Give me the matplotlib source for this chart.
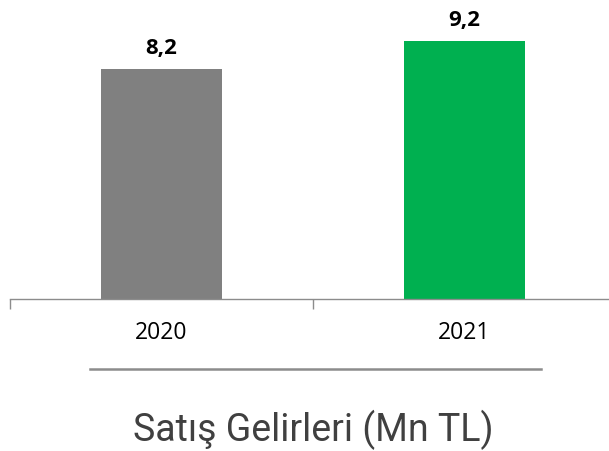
import matplotlib

matplotlib.use("Agg")
import matplotlib.pyplot as plt
from matplotlib.lines import Line2D

years = ["2020", "2021"]
values = [8.2, 9.2]
labels = ["8,2", "9,2"]
colors = ["#808080", "#00B050"]
title = "Satış Gelirleri (Mn TL)"

W, H = 609, 452
fig = plt.figure(figsize=(W / 100, H / 100), dpi=100)

# axes: x 10 -> 616 px, baseline at y=300 px, 28.05 px per unit
y0, ppu, ymax = 300, 28.05, 10.6
ax = fig.add_axes([10 / W, 1 - y0 / H, 606 / W, ymax * ppu / H])
x = range(len(years))
ax.bar(x, values, width=0.40, color=colors, zorder=2)
for xi, v, lab in zip(x, values, labels):
    ax.annotate(lab, (xi, v), xytext=(0, 8), textcoords="offset points",
                ha="center", va="bottom", fontsize=16, fontweight="bold",
                family="Open Sans")

ax.set_xlim(-0.5, 1.5)
ax.set_ylim(0, ymax)
for s in ("left", "right", "top"):
    ax.spines[s].set_visible(False)
ax.spines["bottom"].set_color("#8c8c8c")
ax.spines["bottom"].set_linewidth(1.0)
ax.set_yticks([])
ax.set_xticks([-0.5, 0.5, 1.5])
ax.set_xticklabels([])
ax.tick_params(axis="x", which="major", direction="out", length=7,
               color="#8c8c8c", width=1.0)
ax.set_xticks(list(x), minor=True)
ax.set_xticklabels(years, minor=True, fontsize=16.5, family="Open Sans")
ax.tick_params(axis="x", which="minor", length=0, pad=15)

fig.add_artist(Line2D([90 / W, 541 / W], [1 - 370 / H] * 2, color="#8c8c8c", lw=1.8))
fig.text(313 / W, 1 - 430 / H, title, ha="center", va="center",
         fontsize=27, color="#404040", family="Roboto")

fig.savefig("out.png", dpi=100)
